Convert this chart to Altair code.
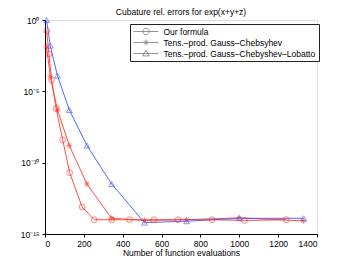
import altair as alt
import pandas as pd

# Series names (legend order)
series_names = [
    "Our formula",
    "Tens.\u2013prod. Gauss\u2013Chebsyhev",
    "Tens.\u2013prod. Gauss\u2013Chebyshev\u2013Lobatto",
]

# Our formula
our_x = [9, 20, 34, 57, 91, 127, 191, 253, 343, 435, 560, 684, 859, 1027, 1242]
our_err = [1.7e-1, 4.2e-3, 6.3e-5, 6.3e-7, 4.0e-9, 2.0e-11, 7.9e-14, 1.0e-14,
           1.0e-14, 1.0e-14, 1.0e-14, 1.0e-14, 1.0e-14, 8.9e-15, 1.0e-14]

# Tensor-product Gauss-Chebyshev
cheb_x = [8, 27, 64, 125, 216, 343, 512, 729, 1000, 1331]
cheb_err = [1.35e-2, 1.1e-4, 5.0e-7, 1.6e-9, 3.2e-12, 1.26e-14, 8.9e-15,
            1.0e-14, 1.35e-14, 8.3e-15]

# Tensor-product Gauss-Chebyshev-Lobatto
lob_x = [8, 27, 64, 125, 216, 343, 512, 729, 1000, 1331]
lob_err = [1.0, 1.6e-2, 1.26e-4, 5.0e-7, 1.6e-9, 3.2e-12, 6.3e-15, 7.9e-15,
           1.26e-14, 1.26e-14]

x_ticks = [0, 200, 400, 600, 800, 1000, 1200, 1400]
y_ticks = [1e-15, 1e-10, 1e-5, 1.0]

rows = []
for i, (xs, es) in enumerate([(our_x, our_err), (cheb_x, cheb_err), (lob_x, lob_err)]):
    for k, (xv, ev) in enumerate(zip(xs, es)):
        rows.append({"series": series_names[i], "n": xv, "err": ev, "idx": k})
df = pd.DataFrame(rows)

colors = ["#ff3b2f", "#ff3b2f", "#3a5cff"]
marker_shapes = ["circle", "M-1,0H1M0,-1V1M-0.7,-0.7L0.7,0.7M-0.7,0.7L0.7,-0.7", "triangle-up"]
legend_shapes = [
    "M-3.1,0H3.1M0.8,0A0.8,0.8 0 1,1 -0.8,0A0.8,0.8 0 1,1 0.8,0",
    "M-3.1,0H3.1M0,-0.7V0.7M-0.5,-0.5L0.5,0.5M-0.5,0.5L0.5,-0.5",
    "M-3.1,0H3.1M0,-0.85L0.8,0.6H-0.8Z",
]

FONT = "Liberation Sans"

x_enc = alt.X("n:Q", scale=alt.Scale(domain=[0, 1400], nice=False),
              axis=alt.Axis(values=x_ticks, format="d", title="Number of function evaluations",
                            grid=False, tickSize=3, labelPadding=2, titlePadding=1,
                            labelFontSize=8.5, titleFontSize=8.5, titleFontWeight="normal",
                            labelFont=FONT, titleFont=FONT, domainColor="black",
                            tickColor="black", labelColor="black", titleColor="black"))
y_enc = alt.Y("err:Q", scale=alt.Scale(type="log", domain=[1e-15, 1.0], nice=False),
              axis=alt.Axis(values=y_ticks, title=None, grid=False, tickSize=3,
                            labelPadding=3, labelFontSize=8.5, labelFont=FONT,
                            labelColor="black", domainColor="black", tickColor="black",
                            labelExpr="datum.value > 0.5 ? '10\u2070' : datum.value > 1e-6 ? '10\u207b\u2075' : datum.value > 1e-11 ? '10\u207b\u00b9\u2070' : '10\u207b\u00b9\u2075'"))

color_scale = alt.Scale(domain=series_names, range=colors)

legend_def = alt.Legend(orient="none", legendX=85, legendY=4, title=None,
                        symbolSize=64, symbolOffset=8.5, labelOffset=13,
                        symbolStrokeWidth=0.9, symbolFillColor="transparent",
                        labelFontSize=8.5, labelFont=FONT, labelColor="black",
                        padding=3, rowPadding=0, strokeColor="#222222",
                        fillColor="white", cornerRadius=0, labelLimit=300)

base = alt.Chart(df)

lines = base.mark_line(strokeWidth=0.9, clip=False).encode(
    x=x_enc, y=y_enc,
    color=alt.Color("series:N", scale=color_scale, legend=None),
    detail="series:N",
    order="idx:Q",
)

markers = base.mark_point(filled=False, strokeWidth=0.9, size=34, clip=False).encode(
    x=x_enc, y=y_enc,
    color=alt.Color("series:N", scale=color_scale, legend=None),
    shape=alt.Shape("series:N", scale=alt.Scale(domain=series_names, range=marker_shapes), legend=None),
)

carrier = base.mark_point(filled=False, opacity=0, strokeWidth=0.9).encode(
    x=x_enc, y=y_enc,
    color=alt.Color("series:N", scale=color_scale, title=None, legend=legend_def),
    shape=alt.Shape("series:N", scale=alt.Scale(domain=series_names, range=legend_shapes), title=None,
                    legend=legend_def),
)

chart = alt.layer(lines, markers, carrier).resolve_scale(shape="independent").properties(
    width=272, height=214,
    padding={"left": 37, "top": 12, "right": 25, "bottom": 26},
    autosize=alt.AutoSizeParams(type="none"),
    title=alt.TitleParams("Cubature rel. errors for exp(x+y+z)", fontSize=8.5, font=FONT,
                          fontWeight="normal", color="black", offset=-1),
).configure_view(stroke="black", strokeWidth=1).configure(background="white")

chart.save("out.html", embed_options={"renderer": "svg", "actions": False})
